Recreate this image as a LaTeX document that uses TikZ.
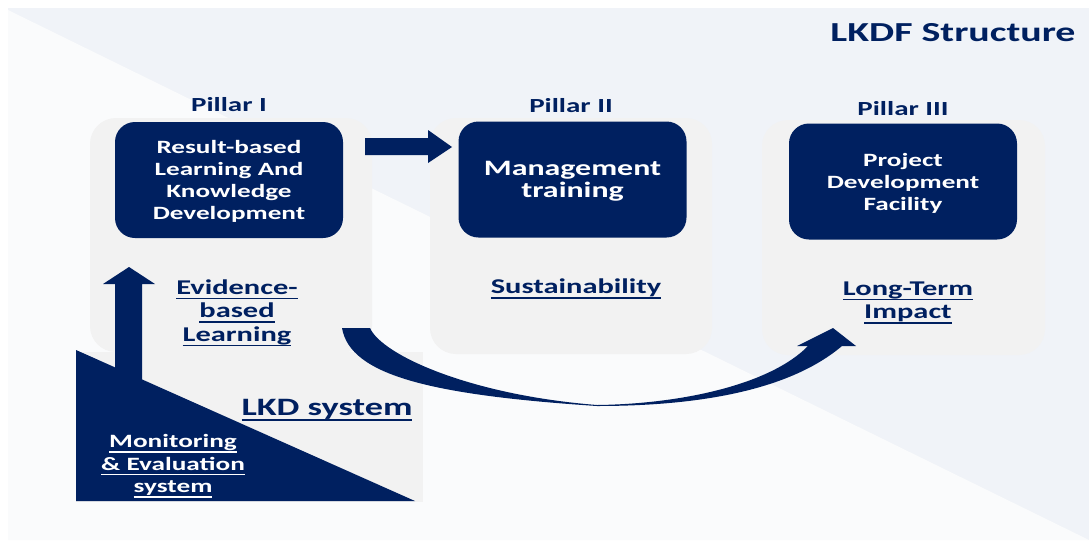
\documentclass[tikz,border=0pt]{standalone}
\usepackage{fontspec}
\newfontfamily\wf{Carlito}[FakeStretch=1.45]
\definecolor{navy}{HTML}{002060}
\definecolor{bgblue}{HTML}{F0F3F8}
\definecolor{bgwhite}{HTML}{FAFBFC}
\definecolor{panelgray}{HTML}{F2F2F2}
\newcommand\myul[1]{\leavevmode\setbox0=\hbox{#1}\rlap{\vrule width \wd0 height -3.5pt depth 5.1pt}\box0}
\begin{document}
\begin{tikzpicture}[x=1pt,y=-1pt,
  darkbox/.style={fill=navy, rounded corners=20pt, minimum width=228pt, minimum height=116pt,
    text=white, align=center, inner sep=0pt, text depth=0pt, font=\wf\bfseries\fontsize{18.75}{22}\selectfont},
  panel/.style={fill=panelgray, rounded corners=26pt, inner sep=0pt},
  pillar/.style={text=navy, inner sep=0pt, font=\wf\bfseries\fontsize{20}{24}\selectfont},
  ullabel/.style={text=navy, align=center, inner sep=0pt, font=\wf\bfseries\fontsize{21}{23.5}\selectfont},
  blockarrow/.style={fill=navy}]
\useasboundingbox (0,0) rectangle (1089,544);
% background
\fill[white] (0,0) rectangle (1089,544);
\fill[bgblue] (8,8) rectangle (1089,540);
\fill[bgwhite] (8,10) -- (1089,540) -- (8,540) -- cycle;
% pillar panels
\node[panel, minimum width=282pt, minimum height=234pt] (p1) at (231,235) {};
\node[panel, minimum width=282pt, minimum height=236pt] (p2) at (571,236) {};
\node[panel, minimum width=283pt, minimum height=235pt] (p3) at (903.5,237.5) {};
% lower-left system area
\fill[panelgray] (76,352) rectangle (423,502);
\fill[navy] (76,350) -- (76,501) -- (415,501) -- cycle;
% title and pillar labels
\node[text=navy, inner sep=0pt, font=\wf\bfseries\fontsize{27.5}{30}\selectfont] (title) at (953,33) {LKDF Structure};
\node[pillar] (pl1) at (229,105) {Pillar I};
\node[pillar] (pl2) at (571,106) {Pillar II};
\node[pillar] (pl3) at (903,109) {Pillar III};
% dark boxes
\node[darkbox] (b1) at (229,180) {Result-based\\Learning And\\Knowledge\\Development};
\node[darkbox, font=\wf\bfseries\fontsize{22}{21.5}\selectfont] (b2) at (572.5,179.5) {Management\\training};
\node[darkbox] (b3) at (903,181.5) {Project\\Development\\Facility};
% block arrows
\coordinate (rtip) at (452,147);
\fill[blockarrow] (365,138) -- (428,138) -- (428,130) -- (rtip) -- (428,163) -- (428,155) -- (365,155) -- cycle;
\coordinate (utip) at (129,267);
\fill[blockarrow] (115,390) -- (115,284) -- (103,284) -- (utip) -- (155,284) -- (142,284) -- (142,390) -- cycle;
% curved arrow
\coordinate (ctip) at (833,328);
\fill[blockarrow] (342,328) .. controls (350,375) and (430,395) .. (597,406)
  .. controls (700,406) and (790,390) .. (842,346) -- (856,346) -- (ctip) -- (797,346) -- (808,346)
  .. controls (770,385) and (680,404) .. (597,405)
  .. controls (470,395) and (382,355) .. (370,328) -- cycle;
% labels
\node[ullabel] (l1) at (237,313) {\myul{Evidence-}\\\myul{based}\\\myul{Learning}};
\node[ullabel] (l2) at (576,289) {\myul{Sustainability}};
\node[ullabel] (l3) at (908,302.5) {\myul{Long-Term}\\\myul{Impact}};
\node[ullabel, font=\wf\bfseries\fontsize{25}{28}\selectfont] (lkd) at (327,410) {\myul{LKD system}};
\node[ullabel, text=white, font=\wf\bfseries\fontsize{18.8}{22.5}\selectfont] (me) at (173,466) {\myul{Monitoring}\\\myul{\& Evaluation}\\\myul{system}};
\end{tikzpicture}
\end{document}
